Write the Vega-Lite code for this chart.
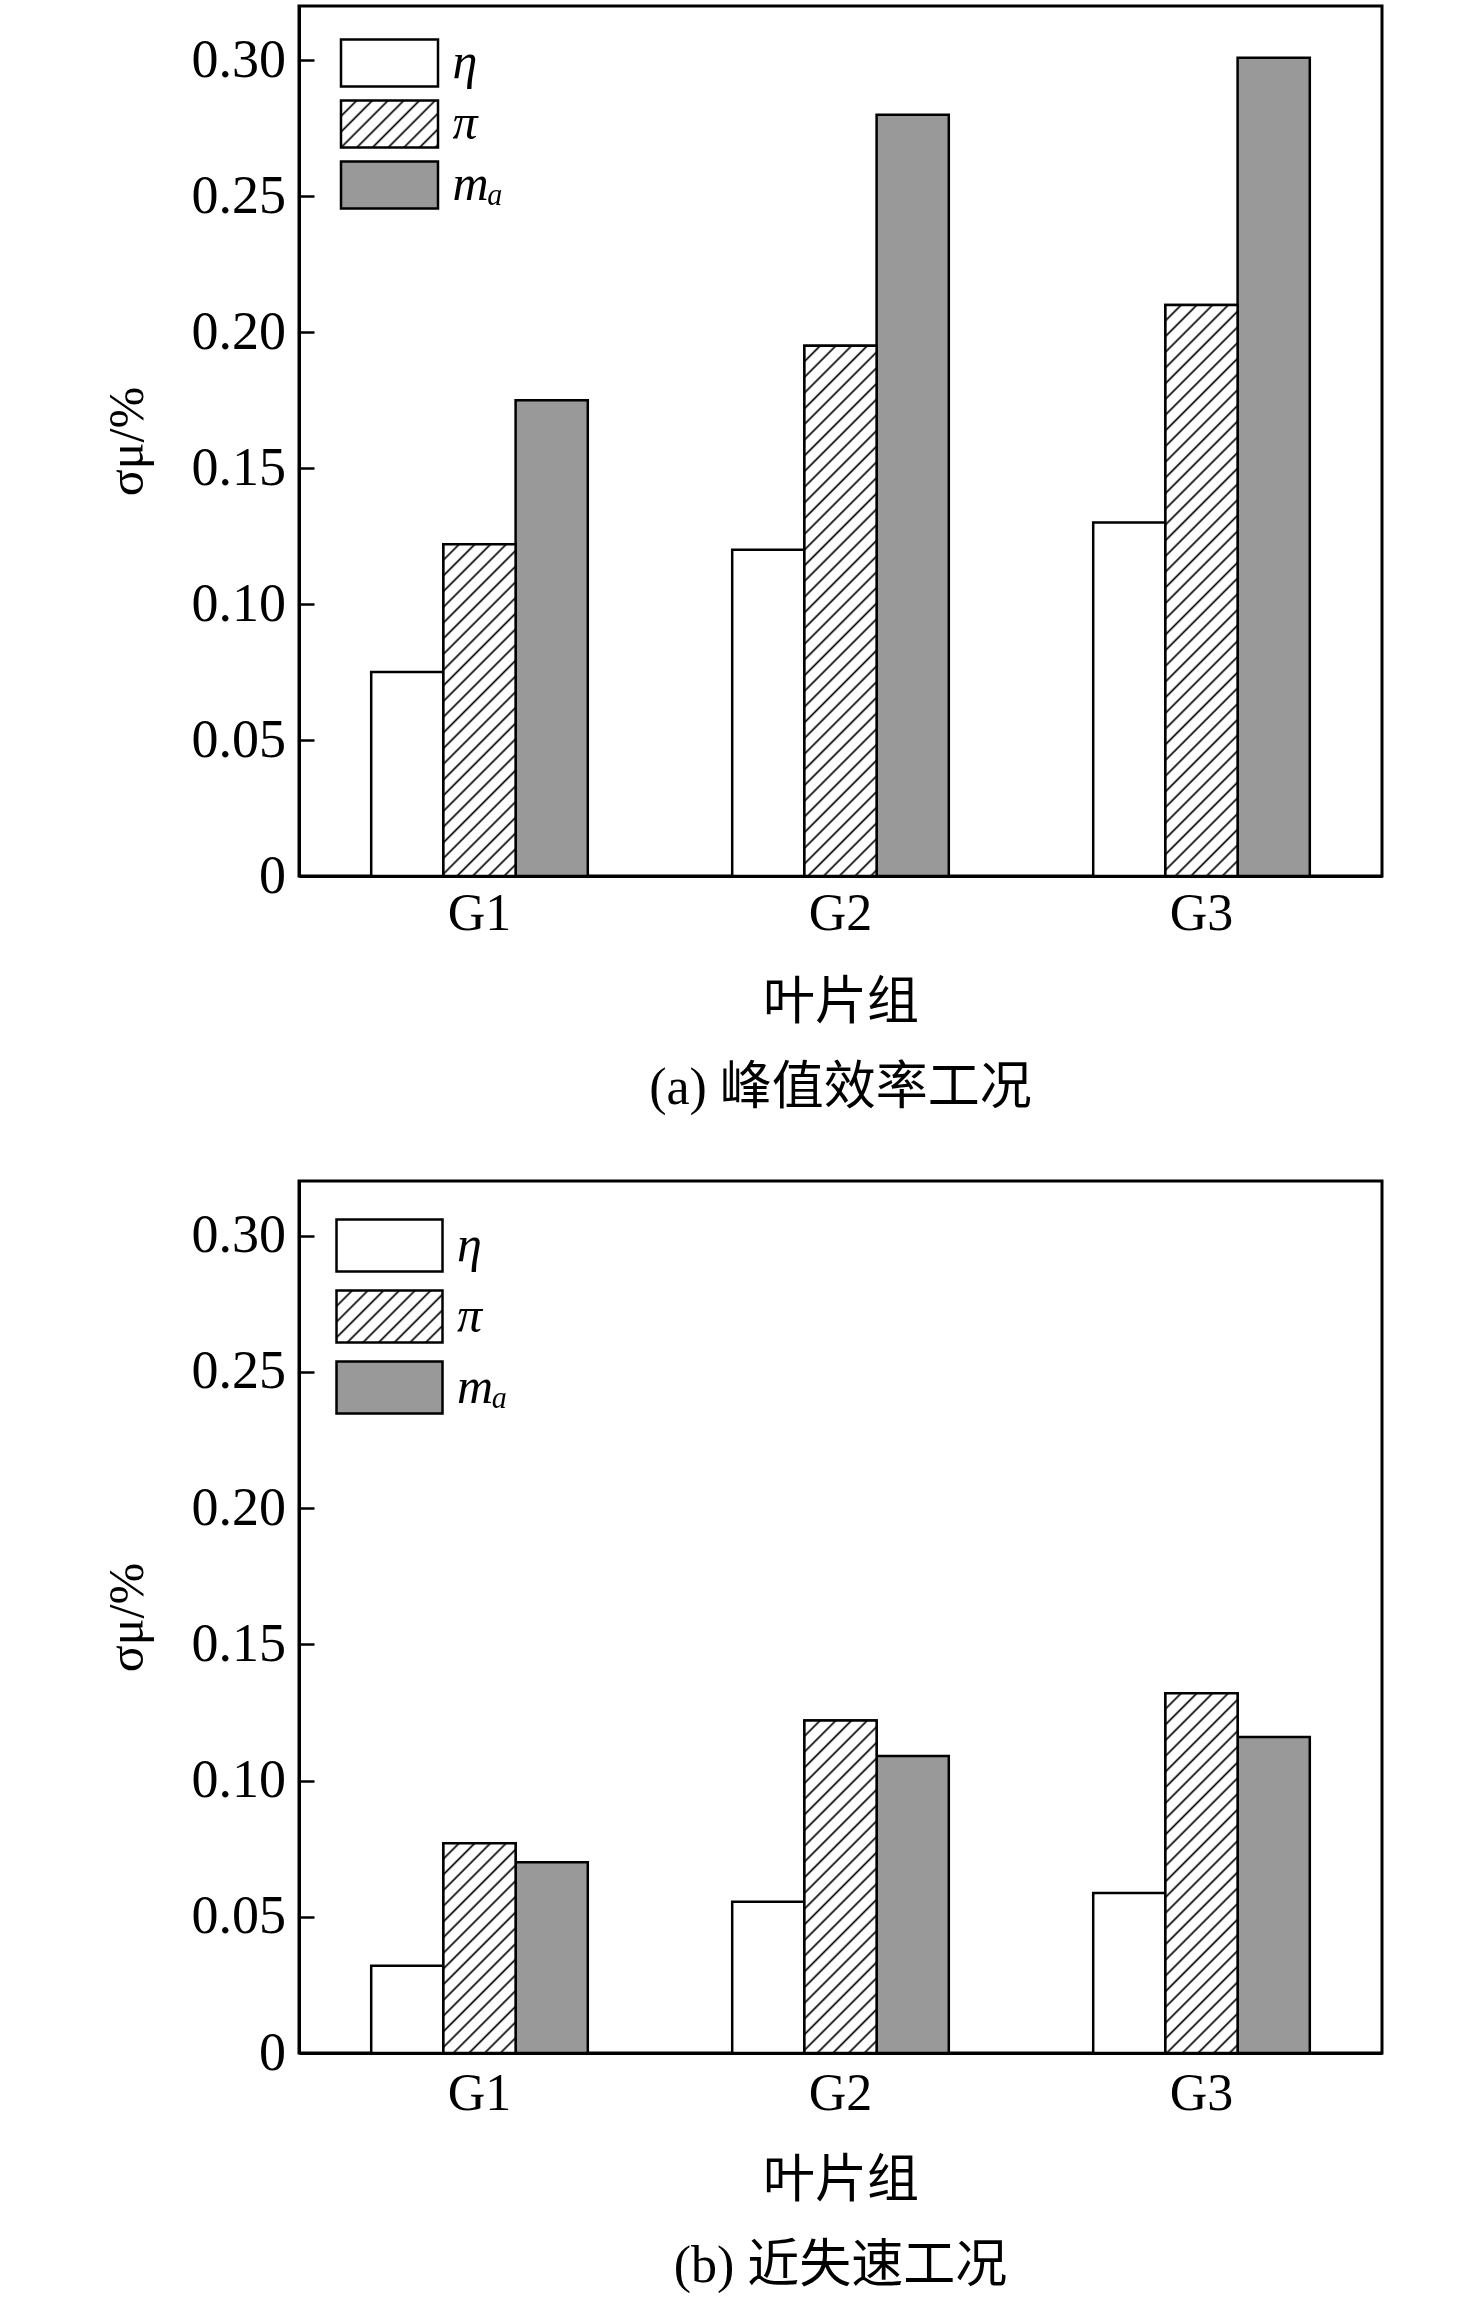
{
  "$schema": "https://vega.github.io/schema/vega-lite/v6.json",
  "background": "white",
  "padding": {"left": 100, "top": 4, "right": 5, "bottom": 5},
  "params": [
    {
      "name": "hatch",
      "value": [
        {"offset": 0, "color": "#000"}, {"offset": 0.003, "color": "#fff"}, {"offset": 0.017, "color": "#fff"},
        {"offset": 0.02, "color": "#000"}, {"offset": 0.023, "color": "#fff"}, {"offset": 0.037, "color": "#fff"},
        {"offset": 0.04, "color": "#000"}, {"offset": 0.043, "color": "#fff"}, {"offset": 0.057, "color": "#fff"},
        {"offset": 0.06, "color": "#000"}, {"offset": 0.063, "color": "#fff"}, {"offset": 0.077, "color": "#fff"},
        {"offset": 0.08, "color": "#000"}, {"offset": 0.083, "color": "#fff"}, {"offset": 0.097, "color": "#fff"},
        {"offset": 0.1, "color": "#000"}, {"offset": 0.103, "color": "#fff"}, {"offset": 0.117, "color": "#fff"},
        {"offset": 0.12, "color": "#000"}, {"offset": 0.123, "color": "#fff"}, {"offset": 0.137, "color": "#fff"},
        {"offset": 0.14, "color": "#000"}, {"offset": 0.143, "color": "#fff"}, {"offset": 0.157, "color": "#fff"},
        {"offset": 0.16, "color": "#000"}, {"offset": 0.163, "color": "#fff"}, {"offset": 0.177, "color": "#fff"},
        {"offset": 0.18, "color": "#000"}, {"offset": 0.183, "color": "#fff"}, {"offset": 0.197, "color": "#fff"},
        {"offset": 0.2, "color": "#000"}, {"offset": 0.203, "color": "#fff"}, {"offset": 0.217, "color": "#fff"},
        {"offset": 0.22, "color": "#000"}, {"offset": 0.223, "color": "#fff"}, {"offset": 0.237, "color": "#fff"},
        {"offset": 0.24, "color": "#000"}, {"offset": 0.243, "color": "#fff"}, {"offset": 0.257, "color": "#fff"},
        {"offset": 0.26, "color": "#000"}, {"offset": 0.263, "color": "#fff"}, {"offset": 0.277, "color": "#fff"},
        {"offset": 0.28, "color": "#000"}, {"offset": 0.283, "color": "#fff"}, {"offset": 0.297, "color": "#fff"},
        {"offset": 0.3, "color": "#000"}, {"offset": 0.303, "color": "#fff"}, {"offset": 0.317, "color": "#fff"},
        {"offset": 0.32, "color": "#000"}, {"offset": 0.323, "color": "#fff"}, {"offset": 0.337, "color": "#fff"},
        {"offset": 0.34, "color": "#000"}, {"offset": 0.343, "color": "#fff"}, {"offset": 0.357, "color": "#fff"},
        {"offset": 0.36, "color": "#000"}, {"offset": 0.363, "color": "#fff"}, {"offset": 0.377, "color": "#fff"},
        {"offset": 0.38, "color": "#000"}, {"offset": 0.383, "color": "#fff"}, {"offset": 0.397, "color": "#fff"},
        {"offset": 0.4, "color": "#000"}, {"offset": 0.403, "color": "#fff"}, {"offset": 0.417, "color": "#fff"},
        {"offset": 0.42, "color": "#000"}, {"offset": 0.423, "color": "#fff"}, {"offset": 0.437, "color": "#fff"},
        {"offset": 0.44, "color": "#000"}, {"offset": 0.443, "color": "#fff"}, {"offset": 0.457, "color": "#fff"},
        {"offset": 0.46, "color": "#000"}, {"offset": 0.463, "color": "#fff"}, {"offset": 0.477, "color": "#fff"},
        {"offset": 0.48, "color": "#000"}, {"offset": 0.483, "color": "#fff"}, {"offset": 0.497, "color": "#fff"},
        {"offset": 0.5, "color": "#000"}, {"offset": 0.503, "color": "#fff"}, {"offset": 0.517, "color": "#fff"},
        {"offset": 0.52, "color": "#000"}, {"offset": 0.523, "color": "#fff"}, {"offset": 0.537, "color": "#fff"},
        {"offset": 0.54, "color": "#000"}, {"offset": 0.543, "color": "#fff"}, {"offset": 0.557, "color": "#fff"},
        {"offset": 0.56, "color": "#000"}, {"offset": 0.563, "color": "#fff"}, {"offset": 0.577, "color": "#fff"},
        {"offset": 0.58, "color": "#000"}, {"offset": 0.583, "color": "#fff"}, {"offset": 0.597, "color": "#fff"},
        {"offset": 0.6, "color": "#000"}, {"offset": 0.603, "color": "#fff"}, {"offset": 0.617, "color": "#fff"},
        {"offset": 0.62, "color": "#000"}, {"offset": 0.623, "color": "#fff"}, {"offset": 0.637, "color": "#fff"},
        {"offset": 0.64, "color": "#000"}, {"offset": 0.643, "color": "#fff"}, {"offset": 0.657, "color": "#fff"},
        {"offset": 0.66, "color": "#000"}, {"offset": 0.663, "color": "#fff"}, {"offset": 0.677, "color": "#fff"},
        {"offset": 0.68, "color": "#000"}, {"offset": 0.683, "color": "#fff"}, {"offset": 0.697, "color": "#fff"},
        {"offset": 0.7, "color": "#000"}, {"offset": 0.703, "color": "#fff"}, {"offset": 0.717, "color": "#fff"},
        {"offset": 0.72, "color": "#000"}, {"offset": 0.723, "color": "#fff"}, {"offset": 0.737, "color": "#fff"},
        {"offset": 0.74, "color": "#000"}, {"offset": 0.743, "color": "#fff"}, {"offset": 0.757, "color": "#fff"},
        {"offset": 0.76, "color": "#000"}, {"offset": 0.763, "color": "#fff"}, {"offset": 0.777, "color": "#fff"},
        {"offset": 0.78, "color": "#000"}, {"offset": 0.783, "color": "#fff"}, {"offset": 0.797, "color": "#fff"},
        {"offset": 0.8, "color": "#000"}, {"offset": 0.803, "color": "#fff"}, {"offset": 0.817, "color": "#fff"},
        {"offset": 0.82, "color": "#000"}, {"offset": 0.823, "color": "#fff"}, {"offset": 0.837, "color": "#fff"},
        {"offset": 0.84, "color": "#000"}, {"offset": 0.843, "color": "#fff"}, {"offset": 0.857, "color": "#fff"},
        {"offset": 0.86, "color": "#000"}, {"offset": 0.863, "color": "#fff"}, {"offset": 0.877, "color": "#fff"},
        {"offset": 0.88, "color": "#000"}, {"offset": 0.883, "color": "#fff"}, {"offset": 0.897, "color": "#fff"},
        {"offset": 0.9, "color": "#000"}, {"offset": 0.903, "color": "#fff"}, {"offset": 0.917, "color": "#fff"},
        {"offset": 0.92, "color": "#000"}, {"offset": 0.923, "color": "#fff"}, {"offset": 0.937, "color": "#fff"},
        {"offset": 0.94, "color": "#000"}, {"offset": 0.943, "color": "#fff"}, {"offset": 0.957, "color": "#fff"},
        {"offset": 0.96, "color": "#000"}, {"offset": 0.963, "color": "#fff"}, {"offset": 0.977, "color": "#fff"},
        {"offset": 0.98, "color": "#000"}, {"offset": 0.983, "color": "#fff"}, {"offset": 0.997, "color": "#fff"},
        {"offset": 1, "color": "#000"}
      ]
    }
  ],
  "datasets": {
    "peak": [
      {"g": "G1", "s": "η", "v": 0.075},
      {"g": "G1", "s": "π", "v": 0.122},
      {"g": "G1", "s": "mₐ", "v": 0.175},
      {"g": "G2", "s": "η", "v": 0.12},
      {"g": "G2", "s": "π", "v": 0.195},
      {"g": "G2", "s": "mₐ", "v": 0.28},
      {"g": "G3", "s": "η", "v": 0.13},
      {"g": "G3", "s": "π", "v": 0.21},
      {"g": "G3", "s": "mₐ", "v": 0.301}
    ],
    "stall": [
      {"g": "G1", "s": "η", "v": 0.032},
      {"g": "G1", "s": "π", "v": 0.077},
      {"g": "G1", "s": "mₐ", "v": 0.07},
      {"g": "G2", "s": "η", "v": 0.0555},
      {"g": "G2", "s": "π", "v": 0.122},
      {"g": "G2", "s": "mₐ", "v": 0.109},
      {"g": "G3", "s": "η", "v": 0.0587},
      {"g": "G3", "s": "π", "v": 0.132},
      {"g": "G3", "s": "mₐ", "v": 0.116}
    ]
  },
  "config": {
    "view": {"stroke": "black", "strokeWidth": 3},
    "axis": {
      "grid": false,
      "domainColor": "black",
      "domainWidth": 3,
      "tickColor": "black",
      "tickWidth": 2.5,
      "labelColor": "black",
      "labelFont": "Liberation Serif",
      "labelFontSize": 52,
      "titleColor": "black",
      "titleFontWeight": "normal"
    },
    "title": {
      "font": "Liberation Serif, Noto Sans CJK SC",
      "fontSize": 52,
      "fontWeight": "normal",
      "color": "black"
    }
  },
  "resolve": {"scale": {"fill": "independent"}, "legend": {"fill": "independent"}},
  "spacing": 63,
  "vconcat": [
    {
      "width": 1083,
      "height": 870,
      "data": {"name": "peak"},
      "title": {"text": "(a) 峰值效率工况", "orient": "bottom", "frame": "group", "offset": 35},
      "encoding": {
        "x": {
          "field": "g",
          "type": "nominal",
          "sort": null,
          "scale": {"paddingInner": 0.4, "paddingOuter": 0.2},
          "axis": {
            "title": "叶片组",
            "titleFont": "Noto Sans CJK SC",
            "titleFontSize": 52,
            "titlePadding": 38,
            "labelAngle": 0,
            "tickSize": -18,
            "labelPadding": 30
          }
        },
        "xOffset": {
          "field": "s",
          "type": "nominal",
          "scale": {"domain": ["η", "π", "mₐ"], "paddingInner": 0, "paddingOuter": 0}
        },
        "y": {
          "field": "v",
          "type": "quantitative",
          "scale": {"domain": [0, 0.32], "nice": false},
          "axis": {
            "values": [0, 0.05, 0.1, 0.15, 0.2, 0.25, 0.3],
            "labelExpr": "datum.value === 0 ? '0' : format(datum.value, '.2f')",
            "labelFontSize": 54,
            "tickSize": -15,
            "labelPadding": 28.5,
            "title": "σμ/%",
            "titleFont": "Liberation Serif",
            "titleFontSize": 50,
            "titlePadding": 39
          }
        }
      },
      "layer": [
        {
          "mark": {"type": "bar", "stroke": "black", "strokeWidth": 2.5},
          "encoding": {
            "fill": {
              "field": "s",
              "type": "nominal",
              "scale": {
                "domain": ["η", "π", "mₐ"],
                "range": ["#ffffff", {"expr": "{gradient: 'linear', x1: 0, y1: 0, x2: 6.553, y2: 3.175, stops: hatch}"}, "#999999"]
              },
              "legend": {
                "title": null,
                "orient": "none",
                "direction": "vertical",
                "legendX": 65,
                "legendY": 31.5,
                "padding": 0,
                "symbolType": "M-2,-0.97H2V0.97H-2Z",
                "symbolSize": 2352,
                "symbolStrokeColor": "black",
                "symbolStrokeWidth": 2.5,
                "labelFont": "Liberation Serif",
                "labelFontStyle": "italic",
                "labelFontSize": 50,
                "labelColor": "black",
                "labelOffset": 37.5,
                "rowPadding": 2,
                "encode": {
                  "symbols": {
                    "update": {
                      "stroke": {"value": "black"},
                      "strokeWidth": {"value": 2.5}
                    }
                  }
                }
              }
            }
          }
        },
        {
          "transform": [{"filter": "datum.s === 'π'"}],
          "mark": {
            "type": "bar",
            "stroke": "black",
            "strokeWidth": 2.5,
            "fill": {"expr": "{gradient: 'linear', x1: 0, y1: 0, x2: 784.9 * 72.2 / (5213 + pow(datum.v * 2718.75, 2)), y2: 784.9 * datum.v * 2718.75 / (5213 + pow(datum.v * 2718.75, 2)), stops: hatch}"}
          }
        }
      ]
    },
    {
      "width": 1083,
      "height": 872,
      "data": {"name": "stall"},
      "title": {"text": "(b) 近失速工况", "orient": "bottom", "frame": "group", "offset": 35},
      "encoding": {
        "x": {
          "field": "g",
          "type": "nominal",
          "sort": null,
          "scale": {"paddingInner": 0.4, "paddingOuter": 0.2},
          "axis": {
            "title": "叶片组",
            "titleFont": "Noto Sans CJK SC",
            "titleFontSize": 52,
            "titlePadding": 36,
            "labelAngle": 0,
            "tickSize": -18,
            "labelPadding": 33
          }
        },
        "xOffset": {
          "field": "s",
          "type": "nominal",
          "scale": {"domain": ["η", "π", "mₐ"], "paddingInner": 0, "paddingOuter": 0}
        },
        "y": {
          "field": "v",
          "type": "quantitative",
          "scale": {"domain": [0, 0.32], "nice": false},
          "axis": {
            "values": [0, 0.05, 0.1, 0.15, 0.2, 0.25, 0.3],
            "labelExpr": "datum.value === 0 ? '0' : format(datum.value, '.2f')",
            "labelFontSize": 54,
            "tickSize": -15,
            "labelPadding": 28.5,
            "title": "σμ/%",
            "titleFont": "Liberation Serif",
            "titleFontSize": 50,
            "titlePadding": 39
          }
        }
      },
      "layer": [
        {
          "mark": {"type": "bar", "stroke": "black", "strokeWidth": 2.5},
          "encoding": {
            "fill": {
              "field": "s",
              "type": "nominal",
              "scale": {
                "domain": ["η", "π", "mₐ"],
                "range": ["#ffffff", {"expr": "{gradient: 'linear', x1: 0, y1: 0, x2: 5.968, y2: 2.928, stops: hatch}"}, "#999999"]
              },
              "legend": {
                "title": null,
                "orient": "none",
                "direction": "vertical",
                "legendX": 62.5,
                "legendY": 36.5,
                "padding": 0,
                "symbolType": "M-2,-0.98H2V0.98H-2Z",
                "symbolSize": 2809,
                "symbolStrokeColor": "black",
                "symbolStrokeWidth": 2.5,
                "labelFont": "Liberation Serif",
                "labelFontStyle": "italic",
                "labelFontSize": 50,
                "labelColor": "black",
                "labelOffset": 39.5,
                "rowPadding": 9,
                "encode": {
                  "symbols": {
                    "update": {
                      "stroke": {"value": "black"},
                      "strokeWidth": {"value": 2.5}
                    }
                  }
                }
              }
            }
          }
        },
        {
          "transform": [{"filter": "datum.s === 'π'"}],
          "mark": {
            "type": "bar",
            "stroke": "black",
            "strokeWidth": 2.5,
            "fill": {"expr": "{gradient: 'linear', x1: 0, y1: 0, x2: 784.9 * 72.2 / (5213 + pow(datum.v * 2725, 2)), y2: 784.9 * datum.v * 2725 / (5213 + pow(datum.v * 2725, 2)), stops: hatch}"}
          }
        }
      ]
    }
  ]
}
